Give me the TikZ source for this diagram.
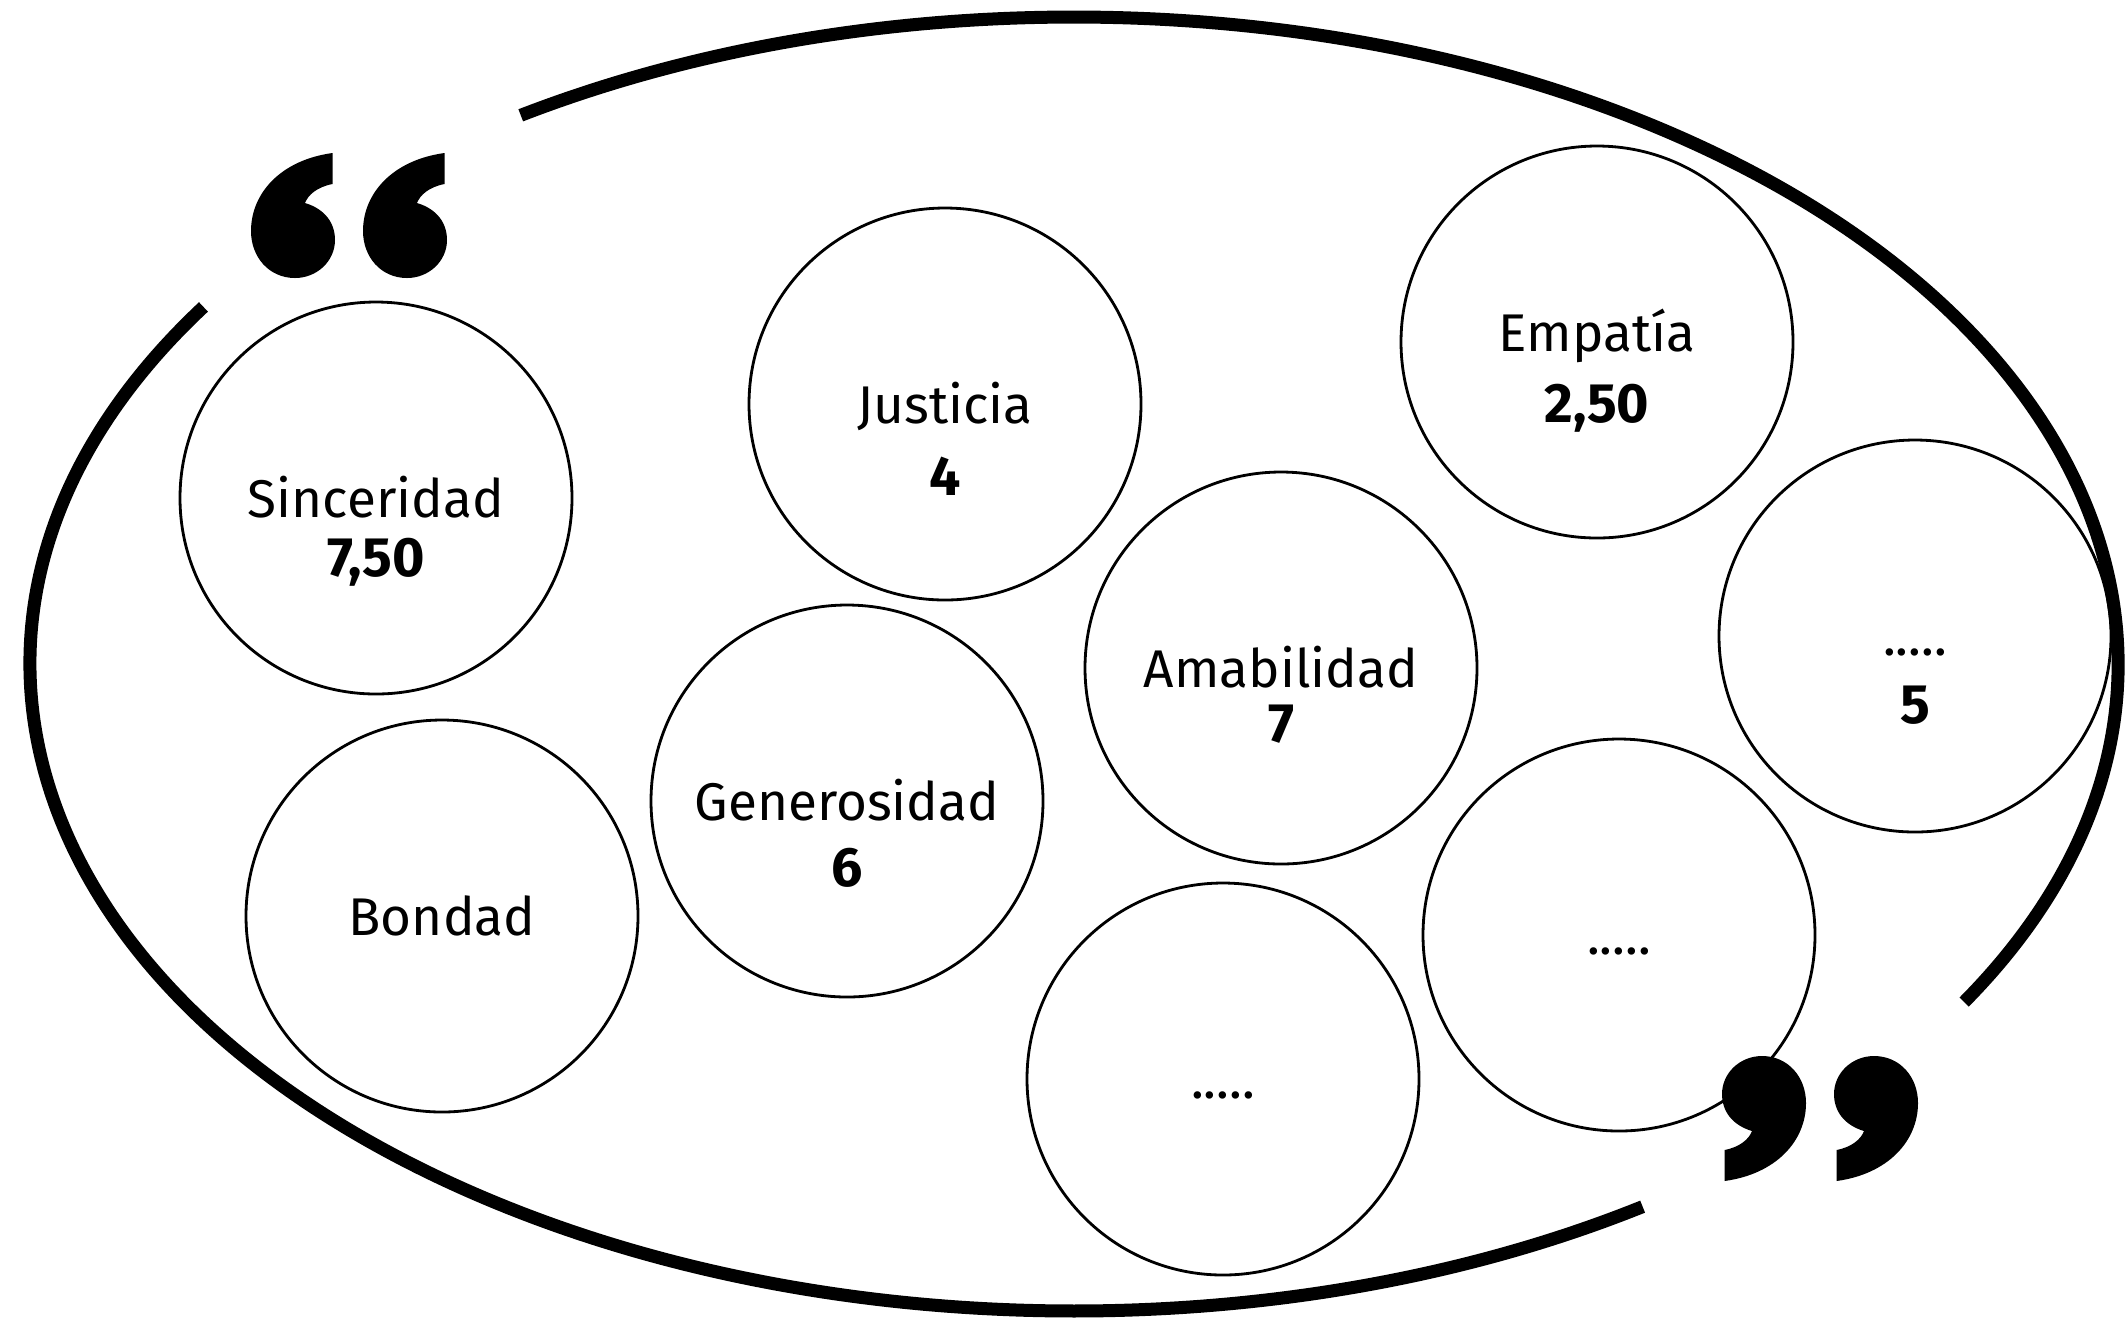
\documentclass[tikz,border=0pt]{standalone}
\usepackage{fontspec}
\setmainfont{Fira Sans}
\usetikzlibrary{positioning}

\tikzset{
	valor/.style={circle, draw, line width=0.8pt, minimum size=3.92cm, inner sep=0pt,
		text height=0.38cm, text depth=0pt, font=\fontsize{15.1}{18}\selectfont},
	nota/.style={inner sep=0pt, text height=0.38cm, text depth=0pt,
		font=\fontsize{15.8}{18}\selectfont\bfseries},
	marco/.style={line width=0.13cm},
	% one quote mark, origin at its top left corner
	comilla/.pic={
		\fill (0.815,0) -- (0.815,-0.31)
			.. controls (0.66,-0.34) and (0.57,-0.42) .. (0.54,-0.50)
			.. controls (0.74,-0.56) and (0.84,-0.70) .. (0.84,-0.87)
			.. controls (0.84,-1.08) and (0.66,-1.25) .. (0.44,-1.25)
			.. controls (0.18,-1.25) and (0,-1.04) .. (0,-0.78)
			.. controls (0,-0.40) and (0.30,-0.07) .. (0.815,0) -- cycle;
	}
}

\begin{document}
\begin{tikzpicture}

	\useasboundingbox (0,0) rectangle (21.28,-13.27);

	% big frame
	\coordinate (m) at (10.74,-6.64);
	\draw[marco] (m) ++(146.5:10.44cm and 6.47cm)
		arc[start angle=146.5, end angle=303, x radius=10.44cm, y radius=6.47cm];
	\draw[marco] (m) ++(328.5:10.44cm and 6.47cm)
		arc[start angle=328.5, end angle=482, x radius=10.44cm, y radius=6.47cm];

	% values
	\node[valor] (sin) at (3.76,-4.98) {Sinceridad};
	\node[valor] (bon) at (4.42,-9.16) {Bondad};
	\node[valor] (jus) at (9.45,-4.04) {Justicia};
	\node[valor] (gen) at (8.47,-8.01) {Generosidad};
	\node[valor] (ama) at (12.81,-6.68) {Amabilidad};
	\node[valor, text depth=0.2cm] (emp) at (15.97,-3.42) {Empatía};
	\node[valor] (otroA) at (19.15,-6.36) {.....};
	\node[valor] (otroB) at (16.19,-9.35) {.....};
	\node[valor] (otroC) at (12.23,-10.79) {.....};

	% scores
	\node[nota] (sinN) at (3.76,-5.57) {7,50};
	\node[nota] (jusN) at (9.45,-4.76) {4};
	\node[nota] (genN) at (8.47,-8.67) {6};
	\node[nota] (amaN) at (12.81,-7.23) {7};
	\node[nota] (empN) at (15.97,-4.03) {2,50};
	\node[nota] (otroAN) at (19.15,-7.04) {5};

	% quotes
	\pic at (2.51,-1.53) {comilla};
	\pic at (3.63,-1.53) {comilla};
	\pic[rotate=180] at (18.06,-11.81) {comilla};
	\pic[rotate=180] at (19.18,-11.81) {comilla};

\end{tikzpicture}
\end{document}
